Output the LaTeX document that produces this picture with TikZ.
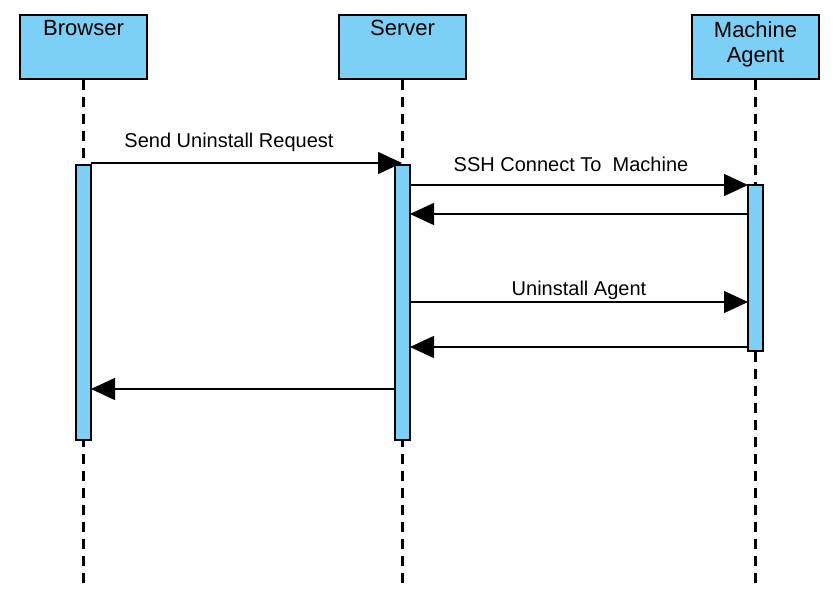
\documentclass[tikz,border=0pt]{standalone}
\usepackage{fontspec}
\setmainfont{Liberation Sans}
\usetikzlibrary{arrows.meta}
\definecolor{actfill}{RGB}{124,207,245}
\tikzset{
  actor/.style={draw=black, line width=1.8pt, fill=actfill, minimum width=127pt, minimum height=64pt, inner sep=0pt},
  actortext/.style={font=\fontsize{22}{25}\selectfont, align=center, inner sep=0pt, anchor=north},
  bar/.style={draw=black, line width=1.6pt, fill=actfill, minimum width=15pt, inner sep=0pt},
  lifeline/.style={line width=2.1pt, dash pattern=on 10pt off 7pt},
  msg/.style={line width=1.5pt, -{Triangle[length=24pt,width=22pt]}},
  msgtext/.style={font=\fontsize{20}{24}\selectfont, inner sep=0pt}
}
\begin{document}
\begin{tikzpicture}[x=1pt,y=-1pt]
\useasboundingbox (0,0) rectangle (839,610);
% actors
\node[actor] (browser) at (83.5,47) {};
\node[actor] (server) at (402.5,47) {};
\node[actor] (agent) at (755.5,47) {};
\node[actortext] (browsertxt) at (83.5,20) {Browser};
\node[actortext] (servertxt) at (402.5,20) {Server};
\node[actortext] (agenttxt) at (755.5,21) {Machine\\Agent};
% lifeline ends
\coordinate (browserend) at (83.5,589);
\coordinate (serverend) at (402.5,589);
\coordinate (agentend) at (755.5,589);
\draw[lifeline] (browser.south) -- (browserend);
\draw[lifeline] (server.south) -- (serverend);
\draw[lifeline] (agent.south) -- (agentend);
% activation bars
\node[bar, minimum height=275pt] (bbar) at (83.5,302.5) {};
\node[bar, minimum height=275pt] (sbar) at (402.5,302.5) {};
\node[bar, minimum height=166pt] (abar) at (755.5,268) {};
% message end points
\coordinate (m1s) at (91,163);
\coordinate (m1e) at (402,163);
\coordinate (m2s) at (410,185);
\coordinate (m2e) at (748,185);
\coordinate (m3s) at (748,214);
\coordinate (m3e) at (410,214);
\coordinate (m4s) at (410,302);
\coordinate (m4e) at (748,302);
\coordinate (m5s) at (748,347);
\coordinate (m5e) at (410,347);
\coordinate (m6s) at (395,389);
\coordinate (m6e) at (91,389);
\draw[msg] (m1s) -- (m1e);
\draw[msg] (m2s) -- (m2e);
\draw[msg] (m3s) -- (m3e);
\draw[msg] (m4s) -- (m4e);
\draw[msg] (m5s) -- (m5e);
\draw[msg] (m6s) -- (m6e);
% labels
\node[msgtext] (l1) at (229,142) {Send Uninstall Request};
\node[msgtext] (l2) at (571,164) {SSH Connect To\ \ Machine};
\node[msgtext] (l3) at (579,290) {Uninstall Agent};
\end{tikzpicture}
\end{document}
